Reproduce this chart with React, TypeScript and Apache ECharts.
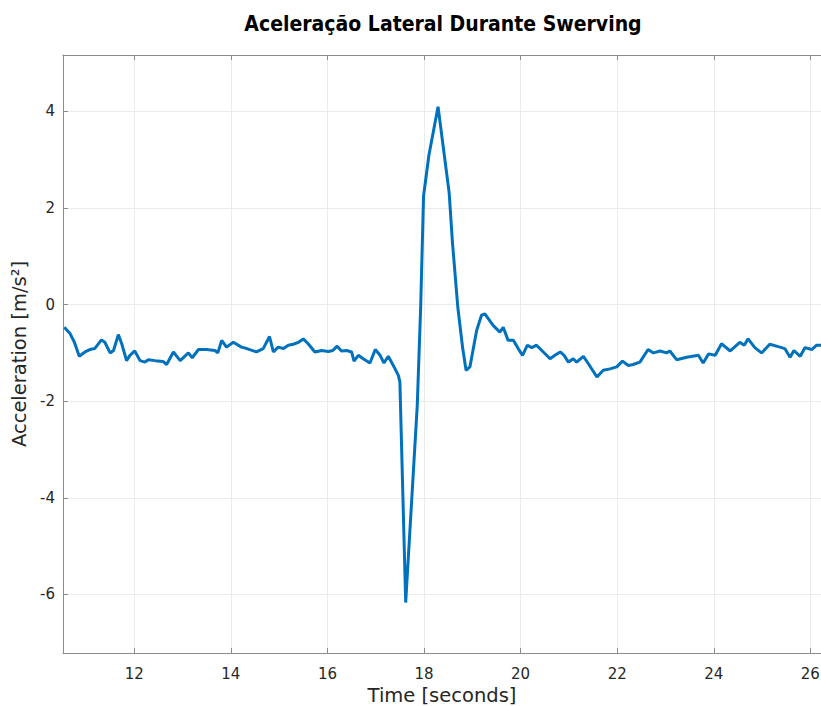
import React, { useEffect, useRef } from "react";
import * as echarts from "echarts";

const TITLE = "Aceleração Lateral Durante Swerving";
const X_NAME = "Time [seconds]";
const Y_NAME = "Acceleration [m/s²]";

const TIME = [
  10.55, 10.67, 10.76, 10.86, 10.98, 11.08, 11.18, 11.32, 11.39, 11.5, 11.57, 11.67, 11.74, 11.84, 11.91,
  12.01, 12.12, 12.22, 12.29, 12.43, 12.6, 12.67, 12.81, 12.95, 13.12, 13.2, 13.33, 13.5, 13.67, 13.73,
  13.81, 13.91, 14.05, 14.22, 14.33, 14.53, 14.67, 14.8, 14.88, 14.98, 15.09, 15.19, 15.29, 15.4, 15.5,
  15.6, 15.74, 15.88, 16.02, 16.11, 16.2, 16.29, 16.4, 16.5, 16.55, 16.64, 16.74, 16.88, 16.99, 17.09,
  17.17, 17.26, 17.38, 17.47, 17.5, 17.62, 17.86, 17.93, 17.99, 18.1, 18.29, 18.52, 18.59, 18.7, 18.8,
  18.87, 18.95, 19.09, 19.19, 19.26, 19.43, 19.57, 19.64, 19.74, 19.85, 19.95, 20.04, 20.14, 20.23, 20.33,
  20.47, 20.61, 20.71, 20.82, 20.9, 20.99, 21.09, 21.16, 21.3, 21.4, 21.58, 21.71, 21.85, 21.99, 22.11,
  22.23, 22.33, 22.47, 22.64, 22.75, 22.89, 23.02, 23.09, 23.23, 23.44, 23.68, 23.78, 23.89, 24.03, 24.16,
  24.34, 24.54, 24.63, 24.71, 24.85, 24.99, 25.16, 25.37, 25.47, 25.58, 25.66, 25.79, 25.89, 26.03, 26.13,
  26.22,
];

const ACCEL = [
  -0.47, -0.6, -0.78, -1.07, -0.98, -0.93, -0.91, -0.73, -0.78, -1.0, -0.95, -0.62, -0.81, -1.16, -1.05,
  -0.96, -1.16, -1.19, -1.14, -1.16, -1.18, -1.24, -0.98, -1.16, -1.0, -1.1, -0.93, -0.93, -0.95, -1.0,
  -0.74, -0.88, -0.78, -0.88, -0.91, -0.98, -0.91, -0.66, -0.98, -0.88, -0.91, -0.84, -0.82, -0.78, -0.71,
  -0.81, -0.98, -0.95, -0.97, -0.95, -0.86, -0.96, -0.95, -0.98, -1.17, -1.05, -1.12, -1.21, -0.93, -1.05,
  -1.21, -1.07, -1.29, -1.47, -1.6, -6.17, -2.08, -0.06, 2.25, 3.09, 4.1, 2.32, 1.27, -0.06, -0.9,
  -1.36, -1.29, -0.53, -0.22, -0.19, -0.43, -0.57, -0.47, -0.74, -0.74, -0.91, -1.05, -0.84, -0.89, -0.84,
  -0.98, -1.12, -1.05, -0.98, -1.05, -1.19, -1.12, -1.19, -1.07, -1.22, -1.5, -1.36, -1.33, -1.29, -1.17,
  -1.26, -1.24, -1.19, -0.93, -1.0, -0.96, -1.0, -0.96, -1.14, -1.09, -1.05, -1.21, -1.02, -1.05, -0.81,
  -0.96, -0.78, -0.84, -0.71, -0.89, -1.0, -0.82, -0.88, -0.91, -1.09, -0.95, -1.07, -0.89, -0.93, -0.84,
  -0.84,
];

const X_MIN = 10.524;
const X_MAX = 26.22;
const Y_MIN = -7.215;
const Y_MAX = 5.17;
const TICK_STEP = 2;

const FONT = "DejaVu Sans";
const AXIS_COLOR = "#8c8c8c";
const TEXT_COLOR = "#262626";
const GRID_COLOR = "#ebebeb";

export default function App() {
  const ref = useRef<HTMLDivElement>(null);

  useEffect(() => {
    if (!ref.current) return;
    document.body.style.margin = "0";
    document.body.style.overflow = "hidden";
    const chart = echarts.init(ref.current, undefined, { renderer: "svg", width: 821, height: 706 });
    const data = TIME.map((t, i) => [t, ACCEL[i]]);

    const baseTick = { show: true, inside: true, length: 5, lineStyle: { color: AXIS_COLOR, width: 1 } };
    const baseLine = { show: true, onZero: false, lineStyle: { color: AXIS_COLOR, width: 1 } };

    chart.setOption({
      animation: false,
      backgroundColor: "#ffffff",
      textStyle: { fontFamily: FONT },
      grid: {
        left: 63,
        top: 55,
        right: 0,
        bottom: 53,
        containLabel: false,
        outerBoundsMode: "none",
      },
      graphic: [
        {
          type: "text",
          x: 443,
          y: 24,
          style: {
            text: TITLE,
            fontFamily: "DejaVu Sans Condensed, DejaVu Sans",
            fontWeight: "bold",
            fontSize: 21,
            fill: "#000000",
            textAlign: "center",
            textVerticalAlign: "middle",
          },
        },
      ],
      xAxis: [
        {
          type: "value",
          position: "bottom",
          min: X_MIN,
          max: X_MAX,
          minInterval: TICK_STEP,
          maxInterval: TICK_STEP,
          axisLine: baseLine,
          axisTick: baseTick,
          axisLabel: {
            showMinLabel: false,
            showMaxLabel: false,
            fontSize: 15,
            fontFamily: FONT,
            color: TEXT_COLOR,
            margin: 13,
          },
          splitLine: { show: true, lineStyle: { color: GRID_COLOR, width: 1 } },
          name: X_NAME,
          nameLocation: "middle",
          nameGap: 31,
          nameTextStyle: { fontSize: 19.5, fontFamily: FONT, color: TEXT_COLOR, lineHeight: 20 },
        },
        {
          type: "value",
          position: "top",
          min: X_MIN,
          max: X_MAX,
          minInterval: TICK_STEP,
          maxInterval: TICK_STEP,
          axisLine: baseLine,
          axisTick: baseTick,
          axisLabel: { show: false },
          splitLine: { show: false },
        },
      ],
      yAxis: [
        {
          type: "value",
          position: "left",
          min: Y_MIN,
          max: Y_MAX,
          minInterval: TICK_STEP,
          maxInterval: TICK_STEP,
          axisLine: baseLine,
          axisTick: baseTick,
          axisLabel: {
            showMinLabel: false,
            showMaxLabel: false,
            fontSize: 15,
            fontFamily: FONT,
            color: TEXT_COLOR,
            margin: 8,
          },
          splitLine: { show: true, lineStyle: { color: GRID_COLOR, width: 1 } },
          name: Y_NAME,
          nameLocation: "middle",
          nameGap: 33,
          nameRotate: 90,
          nameTextStyle: { fontSize: 19.5, fontFamily: FONT, color: TEXT_COLOR },
        },
      ],
      series: [
        {
          type: "line",
          xAxisIndex: 0,
          yAxisIndex: 0,
          data,
          showSymbol: false,
          symbol: "none",
          smooth: false,
          lineStyle: { color: "#0072BD", width: 3 },
          clip: true,
        },
      ],
    });

    return () => chart.dispose();
  }, []);

  return (
    <div
      ref={ref}
      style={{ position: "absolute", left: 0, top: 0, width: 821, height: 706, background: "#fff" }}
    />
  );
}
